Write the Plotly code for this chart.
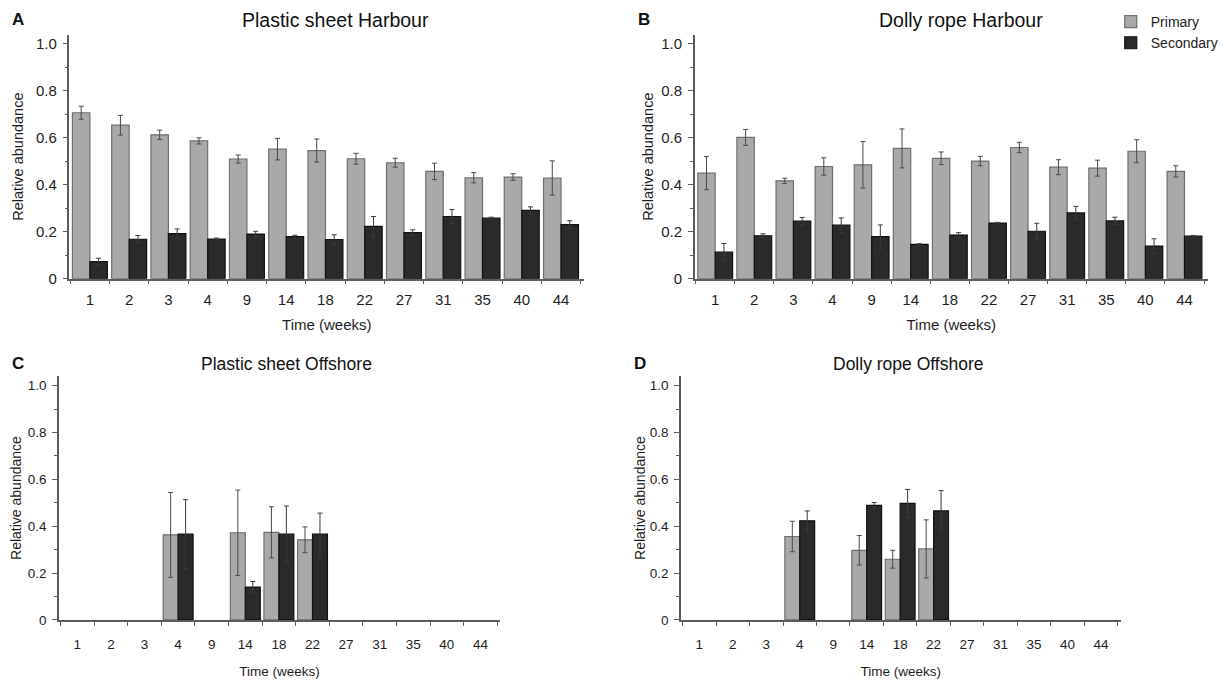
import plotly.graph_objects as go

weeks = ["1", "2", "3", "4", "9", "14", "18", "22", "27", "31", "35", "40", "44"]
N = None

# Plastic sheet, harbour
ps_harbour_primary = [0.707, 0.654, 0.613, 0.587, 0.510, 0.552, 0.546, 0.511, 0.494, 0.457, 0.430, 0.433, 0.429]
ps_harbour_primary_err = [0.028, 0.042, 0.020, 0.013, 0.017, 0.046, 0.049, 0.023, 0.019, 0.035, 0.022, 0.014, 0.073]
ps_harbour_secondary = [0.073, 0.168, 0.192, 0.169, 0.190, 0.179, 0.167, 0.223, 0.196, 0.265, 0.258, 0.291, 0.230]
ps_harbour_secondary_err = [0.014, 0.016, 0.020, 0.004, 0.012, 0.006, 0.020, 0.042, 0.012, 0.030, 0.004, 0.015, 0.017]

# Dolly rope, harbour
dr_harbour_primary = [0.450, 0.602, 0.417, 0.478, 0.485, 0.555, 0.513, 0.501, 0.559, 0.475, 0.471, 0.543, 0.457]
dr_harbour_primary_err = [0.071, 0.034, 0.011, 0.037, 0.099, 0.083, 0.027, 0.020, 0.022, 0.032, 0.034, 0.049, 0.024]
dr_harbour_secondary = [0.113, 0.183, 0.245, 0.228, 0.179, 0.146, 0.186, 0.237, 0.202, 0.280, 0.246, 0.139, 0.181]
dr_harbour_secondary_err = [0.037, 0.008, 0.016, 0.031, 0.050, 0.003, 0.010, 0.003, 0.034, 0.028, 0.016, 0.031, 0.003]

# Plastic sheet, offshore
ps_offshore_primary = [N, N, N, 0.363, N, 0.372, 0.374, 0.342, N, N, N, N, N]
ps_offshore_primary_err = [N, N, N, 0.181, N, 0.182, 0.109, 0.055, N, N, N, N, N]
ps_offshore_secondary = [N, N, N, 0.366, N, 0.140, 0.366, 0.366, N, N, N, N, N]
ps_offshore_secondary_err = [N, N, N, 0.147, N, 0.024, 0.120, 0.090, N, N, N, N, N]

# Dolly rope, offshore
dr_offshore_primary = [N, N, N, 0.356, N, 0.297, 0.259, 0.303, N, N, N, N, N]
dr_offshore_primary_err = [N, N, N, 0.065, N, 0.063, 0.038, 0.124, N, N, N, N, N]
dr_offshore_secondary = [N, N, N, 0.423, N, 0.489, 0.497, 0.465, N, N, N, N, N]
dr_offshore_secondary_err = [N, N, N, 0.042, N, 0.012, 0.060, 0.087, N, N, N, N, N]

y_ticks = [0, 0.2, 0.4, 0.6, 0.8, 1.0]
y_ticktext = ["0", "0.2", "0.4", "0.6", "0.8", "1.0"]

W, H = 1223, 680
FONT = "Liberation Sans, Arial, sans-serif"
PRIMARY_FILL, PRIMARY_LINE = "#a9a9a9", "#6f6f6f"
SECONDARY_FILL, SECONDARY_LINE = "#2a2a2a", "#111111"
AXIS_COLOR = "#5c5c5c"
TEXT_COLOR = "#1e1e1e"

# panel geometry in pixels and font sizes
panels = [
    dict(key="", x0=70, x1=588.5, yt=35, yb=282, xs=-0.52,
         tick=15, xtitle=15, ytitle=14.5, ptitle=19.5, title_y=20, title_cx=338, letter_x=10,
         lab_gap=7, xt_gap=12, yt_gap=9,
         title="Plastic sheet Harbour", letter="A",
         p=ps_harbour_primary, pe=ps_harbour_primary_err,
         s=ps_harbour_secondary, se=ps_harbour_secondary_err),
    dict(key="2", x0=700, x1=1216.5, yt=35, yb=282, xs=-0.52,
         tick=15, xtitle=15, ytitle=14.5, ptitle=19.5, title_y=20, title_cx=968, letter_x=641,
         lab_gap=7, xt_gap=12, yt_gap=4,
         title="Dolly rope Harbour", letter="B",
         p=dr_harbour_primary, pe=dr_harbour_primary_err,
         s=dr_harbour_secondary, se=dr_harbour_secondary_err),
    dict(key="3", x0=59.3, x1=504, yt=380.7, yb=627.3, xs=-0.55,
         tick=13.5, xtitle=13.5, ytitle=14, ptitle=17.5, title_y=368, title_cx=289, letter_x=10,
         lab_gap=11, xt_gap=16, yt_gap=3,
         title="Plastic sheet Offshore", letter="C",
         p=ps_offshore_primary, pe=ps_offshore_primary_err,
         s=ps_offshore_secondary, se=ps_offshore_secondary_err),
    dict(key="4", x0=686, x1=1129, yt=380.7, yb=627.3, xs=-0.55,
         tick=13.5, xtitle=13.5, ytitle=14, ptitle=17.5, title_y=368, title_cx=915, letter_x=637,
         lab_gap=11, xt_gap=16, yt_gap=1,
         title="Dolly rope Offshore", letter="D",
         p=dr_offshore_primary, pe=dr_offshore_primary_err,
         s=dr_offshore_secondary, se=dr_offshore_secondary_err),
]

fig = go.Figure()
annotations = []

for i, pn in enumerate(panels):
    xa, ya = "x" + pn["key"], "y" + pn["key"]
    fig.add_trace(go.Bar(
        x=weeks, y=pn["p"], name="Primary", xaxis=xa, yaxis=ya,
        marker=dict(color=PRIMARY_FILL, line=dict(color=PRIMARY_LINE, width=1.2)),
        error_y=dict(type="data", array=pn["pe"], color="#4a4a4a", thickness=1, width=2.5),
        showlegend=(i == 1), legendgroup="p",
    ))
    fig.add_trace(go.Bar(
        x=weeks, y=pn["s"], name="Secondary", xaxis=xa, yaxis=ya,
        marker=dict(color=SECONDARY_FILL, line=dict(color=SECONDARY_LINE, width=1.2)),
        error_y=dict(type="data", array=pn["se"], color="#3a3a3a", thickness=1, width=2.5),
        showlegend=(i == 1), legendgroup="s",
    ))

    xdom = [pn["x0"] / W, pn["x1"] / W]
    ydom = [1 - pn["yb"] / H, 1 - pn["yt"] / H]

    fig.layout["xaxis" + pn["key"]] = dict(
        domain=xdom, anchor=ya, type="category",
        categoryorder="array", categoryarray=weeks,
        range=[pn["xs"], 12.59], tickson="boundaries",
        ticks="outside", ticklen=4, tickwidth=1.2, tickcolor=AXIS_COLOR,
        ticklabelstandoff=pn["lab_gap"],
        showline=True, linecolor=AXIS_COLOR, linewidth=1.5,
        showgrid=False, zeroline=False,
        tickfont=dict(family=FONT, size=pn["tick"], color=TEXT_COLOR),
        title=dict(text="Time (weeks)", font=dict(family=FONT, size=pn["xtitle"], color=TEXT_COLOR),
                   standoff=pn["xt_gap"]),
        fixedrange=True,
    )
    fig.layout["yaxis" + pn["key"]] = dict(
        domain=ydom, anchor=xa, range=[0, 1.04],
        tickmode="array", tickvals=y_ticks, ticktext=y_ticktext,
        ticks="outside", ticklen=5, tickwidth=1.2, tickcolor=AXIS_COLOR,
        ticklabelstandoff=3,
        minor=dict(tickvals=[0.1, 0.3, 0.5, 0.7, 0.9], ticks="outside", ticklen=3,
                   tickwidth=1, tickcolor=AXIS_COLOR, showgrid=False),
        showline=True, linecolor=AXIS_COLOR, linewidth=1.5,
        showgrid=False, zeroline=False,
        tickfont=dict(family=FONT, size=pn["tick"], color=TEXT_COLOR),
        title=dict(text="Relative abundance", font=dict(family=FONT, size=pn["ytitle"], color=TEXT_COLOR),
                   standoff=pn["yt_gap"]),
        fixedrange=True,
    )

    annotations.append(dict(
        text=pn["title"], x=pn["title_cx"] / W, y=1 - pn["title_y"] / H,
        xref="paper", yref="paper", xanchor="center", yanchor="middle", showarrow=False,
        font=dict(family=FONT, size=pn["ptitle"], color="#111"),
    ))
    annotations.append(dict(
        text="<b>%s</b>" % pn["letter"], x=pn["letter_x"] / W, y=1 - pn["title_y"] / H,
        xref="paper", yref="paper", xanchor="left", yanchor="middle", showarrow=False,
        font=dict(family=FONT, size=17, color="#111"),
    ))

fig.update_layout(
    width=W, height=H,
    margin=dict(l=0, r=0, t=0, b=0),
    paper_bgcolor="white", plot_bgcolor="white",
    barmode="group", bargap=0.11, bargroupgap=0,
    annotations=annotations,
    legend=dict(
        x=1119 / W, y=1 - 6 / H, xanchor="left", yanchor="top",
        font=dict(family=FONT, size=14, color=TEXT_COLOR),
        bgcolor="rgba(0,0,0,0)", tracegroupgap=0, itemwidth=30,
    ),
    font=dict(family=FONT),
)

fig.write_html("out.html")
